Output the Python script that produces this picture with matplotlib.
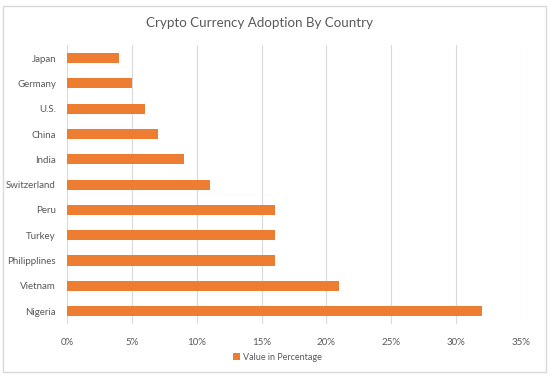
import matplotlib.pyplot as plt
from matplotlib.patches import Rectangle
from matplotlib.ticker import PercentFormatter

countries = ["Nigeria", "Vietnam", "Philipplines", "Turkey", "Peru",
             "Switzerland", "India", "China", "U.S.", "Germany", "Japan"]
values = [32, 21, 16, 16, 16, 11, 9, 7, 6, 5, 4]
xticks = [0, 5, 10, 15, 20, 25, 30, 35]

orange = "#ED7D31"
grey_txt = "#595959"
grid_col = "#D9D9D9"

plt.rcParams['font.family'] = ['Lato', 'DejaVu Sans']

fig = plt.figure(figsize=(5.5, 3.76), dpi=100)
fig.patches.append(Rectangle((0.006, 0.01), 0.986, 0.975, transform=fig.transFigure,
                             fill=False, edgecolor="#D9D9D9", lw=1))

ax = fig.add_axes([0.122, 0.139, 0.825, 0.740])
ax.barh(range(len(countries)), values, height=0.4, color=orange, zorder=3,
        label="Value in Percentage")
ax.set_yticks(range(len(countries)))
ax.set_yticklabels(countries)
ax.set_ylim(-0.5, len(countries) - 0.5)
ax.set_xlim(0, 35)
ax.set_xticks(xticks)
ax.xaxis.set_major_formatter(PercentFormatter(decimals=0))
ax.grid(axis='x', color=grid_col, lw=0.8, zorder=0)
for s in ax.spines.values():
    s.set_visible(False)
ax.tick_params(axis='both', length=0, labelsize=7, labelcolor=grey_txt)
ax.tick_params(axis='x', pad=10)
ax.tick_params(axis='y', pad=8)

fig.text(0.471, 0.94, "Crypto Currency Adoption By Country", ha='center', va='center',
         fontsize=9.6, color=grey_txt)
fig.legend(loc='center', bbox_to_anchor=(0.505, 0.05), frameon=False, fontsize=6.5,
           labelcolor=grey_txt, handlelength=0.7, handleheight=0.7, handletextpad=0.4)

fig.savefig("out.png", dpi=100)
